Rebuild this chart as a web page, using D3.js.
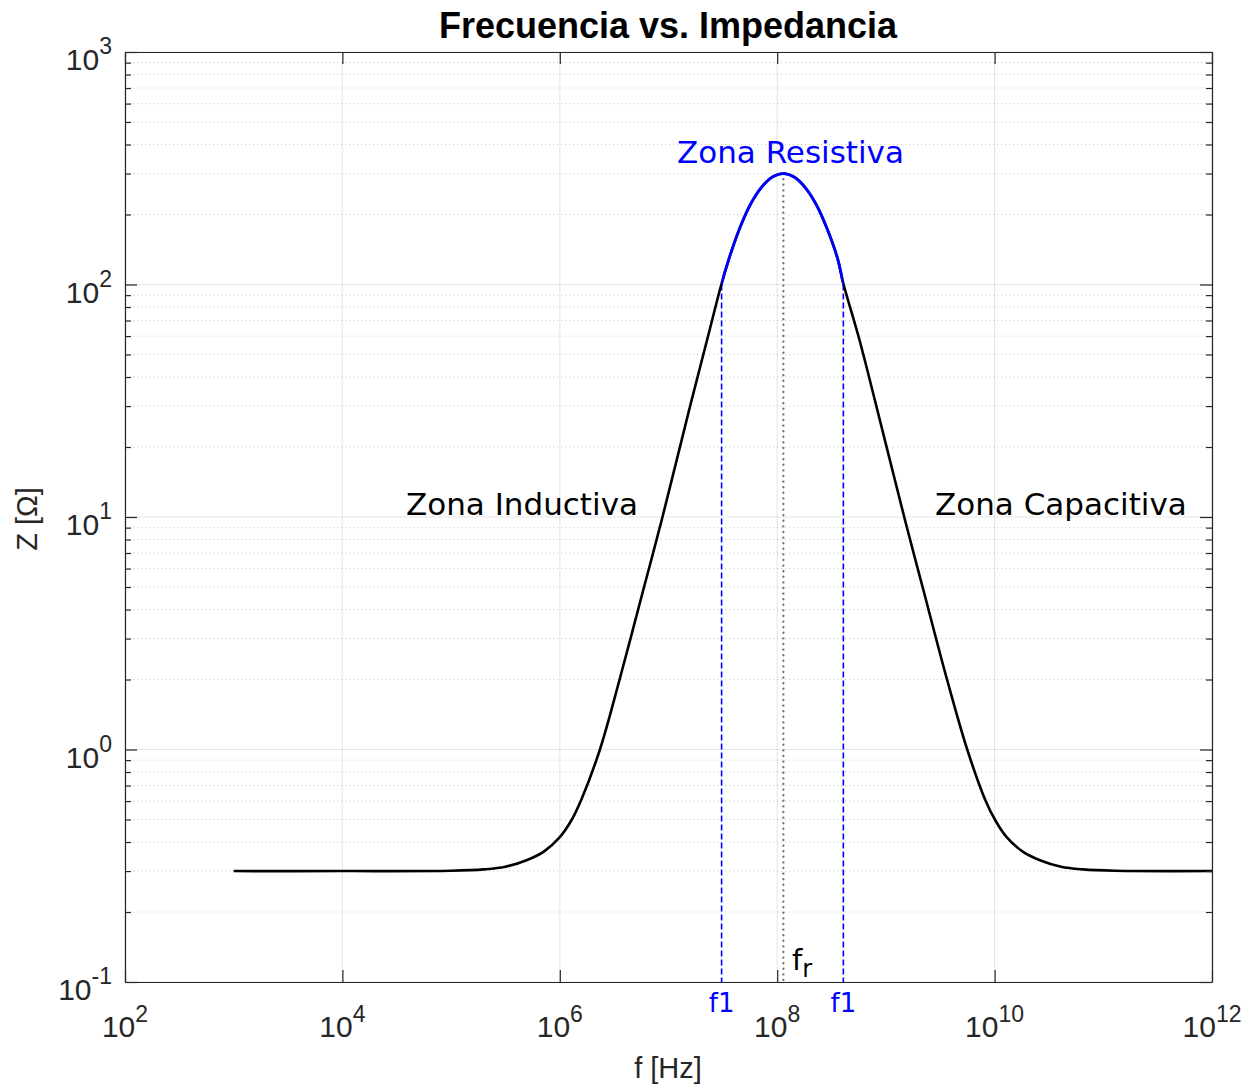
<!DOCTYPE html>
<html>
<head>
<meta charset="utf-8">
<script src="https://cdn.jsdelivr.net/npm/d3@7"></script>
<style>
  body { margin: 0; background: #fff; }
  text { font-family: "Liberation Sans", Arial, sans-serif; }
</style>
</head>
<body>
<script>
// impedance curve
const freq = [1e3, 1e4, 1e5, 2e5, 3.16e5, 5.01e5, 7.08e5, 1e6, 1.26e6, 1.58e6, 2.34e6, 3.55e6, 5.89e6, 8.71e6,
  1.58e7, 2.27e7, 3.08e7, 3.6e7, 4.53e7, 5.7e7, 7.18e7, 9.04e7, 1.14e8, 1.43e8, 1.8e8, 2.27e8, 2.86e8, 3.6e8,
  4.06e8, 5.7e8, 8.17e8, 1.49e9, 2.2e9, 3.65e9, 5.6e9, 8.17e9, 1.03e10, 1.29e10, 1.83e10, 2.58e10, 4.09e10,
  6.49e10, 1.29e11, 1e12];
const imped = [0.30, 0.30, 0.301, 0.305, 0.313, 0.335, 0.363, 0.42, 0.49, 0.61, 1.0, 2.0, 4.9, 9.8,
  30, 58, 101, 129, 175, 222, 262, 290, 300, 290, 262, 222, 175, 129,
  101, 58, 30, 9.8, 4.9, 2.0, 1.0, 0.61, 0.49, 0.42, 0.363, 0.335, 0.313,
  0.305, 0.301, 0.30];

const f1Low = 3.08e7;
const f1High = 4.06e8;
const fRes = 1.14e8;
const zPeak = 300;
const zF1 = 100;

const xTicks = [1e2, 1e4, 1e6, 1e8, 1e10, 1e12];
const xExp = ["2", "4", "6", "8", "10", "12"];
const yTicks = [1e-1, 1e0, 1e1, 1e2, 1e3];
const yExp = ["-1", "0", "1", "2", "3"];

const axisColor = "#262626";
const blue = "#0000ff";

let x = d3.scaleLog().domain([1e2, 1e12]).range([125, 1212]);
let y = d3.scaleLog().domain([1e-1, 1e3]).range([982, 52]);

let data = freq.map((f, i) => ({ f: f, z: imped[i] }));
let yAll = y.ticks();
let isMajor = v => Math.abs(Math.log10(v) - Math.round(Math.log10(v))) < 1e-9;

let svg = d3
  .select("body")
  .append("svg")
  .attr("width", 1254)
  .attr("height", 1090);

// grid
let grid = svg.append("g");
grid
  .selectAll(".minor")
  .data(yAll.filter(v => !isMajor(v)))
  .enter()
  .append("line")
  .attr("x1", x.range()[0])
  .attr("x2", x.range()[1])
  .attr("y1", d => y(d))
  .attr("y2", d => y(d))
  .attr("stroke", axisColor)
  .attr("stroke-opacity", 0.25)
  .attr("stroke-dasharray", "1,3");
grid
  .selectAll(".hmajor")
  .data(yTicks)
  .enter()
  .append("line")
  .attr("x1", x.range()[0])
  .attr("x2", x.range()[1])
  .attr("y1", d => y(d))
  .attr("y2", d => y(d))
  .attr("stroke", axisColor)
  .attr("stroke-opacity", 0.12);
grid
  .selectAll(".vmajor")
  .data(xTicks)
  .enter()
  .append("line")
  .attr("y1", y.range()[0])
  .attr("y2", y.range()[1])
  .attr("x1", d => x(d))
  .attr("x2", d => x(d))
  .attr("stroke", axisColor)
  .attr("stroke-opacity", 0.12);

// marker lines
svg
  .selectAll(".f1")
  .data([f1Low, f1High])
  .enter()
  .append("line")
  .attr("x1", d => x(d))
  .attr("x2", d => x(d))
  .attr("y1", y(zF1))
  .attr("y2", y(1e-1))
  .attr("stroke", blue)
  .attr("stroke-width", 1.6)
  .attr("stroke-dasharray", "6,3");

svg
  .append("line")
  .attr("x1", x(fRes))
  .attr("x2", x(fRes))
  .attr("y1", y(zPeak))
  .attr("y2", y(1e-1))
  .attr("stroke", "#707070")
  .attr("stroke-width", 2.3)
  .attr("stroke-linecap", "round")
  .attr("stroke-dasharray", "0.1,5.5");

// curve
let line = d3
  .line()
  .x(d => x(d.f))
  .y(d => y(d.z))
  .curve(d3.curveCatmullRom.alpha(0.5));

svg
  .append("path")
  .datum(data)
  .attr("d", line)
  .attr("fill", "none")
  .attr("stroke", "#000")
  .attr("stroke-width", 2.6);

svg
  .append("clipPath")
  .attr("id", "resistiva")
  .append("rect")
  .attr("x", x(f1Low))
  .attr("width", x(f1High) - x(f1Low))
  .attr("y", 0)
  .attr("height", 1090);

svg
  .append("path")
  .datum(data)
  .attr("d", line)
  .attr("fill", "none")
  .attr("stroke", blue)
  .attr("stroke-width", 2.8)
  .attr("clip-path", "url(#resistiva)");

// axes (box, ticks inward)
let styleAxis = g => {
  g.selectAll("path").attr("stroke", axisColor).attr("stroke-width", 1.2);
  g.selectAll("line").attr("stroke", axisColor).attr("stroke-width", 1.2);
  g.selectAll("text").remove();
};

svg
  .append("g")
  .attr("transform", `translate(0, ${y.range()[0]})`)
  .call(d3.axisBottom(x).tickValues(xTicks).tickSizeInner(-12).tickSizeOuter(0).tickFormat(""))
  .call(styleAxis);
svg
  .append("g")
  .attr("transform", `translate(0, ${y.range()[1]})`)
  .call(d3.axisTop(x).tickValues(xTicks).tickSizeInner(-12).tickSizeOuter(0).tickFormat(""))
  .call(styleAxis);

let left = svg
  .append("g")
  .attr("transform", `translate(${x.range()[0]}, 0)`)
  .call(d3.axisLeft(y).tickValues(yAll).tickSizeInner(-12).tickSizeOuter(0).tickFormat(""))
  .call(styleAxis);
left.selectAll(".tick line").attr("x2", d => (isMajor(d) ? 12 : 6));

let right = svg
  .append("g")
  .attr("transform", `translate(${x.range()[1]}, 0)`)
  .call(d3.axisRight(y).tickValues(yAll).tickSizeInner(-12).tickSizeOuter(0).tickFormat(""))
  .call(styleAxis);
right.selectAll(".tick line").attr("x2", d => (isMajor(d) ? -12 : -6));

// tick labels 10^n
let xl = svg
  .selectAll(".xl")
  .data(xTicks)
  .enter()
  .append("text")
  .attr("x", d => x(d))
  .attr("y", 1037)
  .attr("text-anchor", "middle")
  .attr("fill", axisColor)
  .style("font-size", "30px");
xl.append("tspan").text("10");
xl.append("tspan")
  .attr("dy", -15)
  .style("font-size", "23px")
  .text((d, i) => xExp[i]);

let yl = svg
  .selectAll(".yl")
  .data(yTicks)
  .enter()
  .append("text")
  .attr("x", 112)
  .attr("y", d => y(d) + 18)
  .attr("text-anchor", "end")
  .attr("fill", axisColor)
  .style("font-size", "30px");
yl.append("tspan").text("10");
yl.append("tspan")
  .attr("dy", -16)
  .style("font-size", "23px")
  .text((d, i) => yExp[i]);

// titles
svg
  .append("text")
  .attr("x", 668)
  .attr("y", 38)
  .attr("text-anchor", "middle")
  .style("font-size", "36px")
  .style("font-weight", "bold")
  .text("Frecuencia vs. Impedancia");

svg
  .append("text")
  .attr("x", 668)
  .attr("y", 1078)
  .attr("text-anchor", "middle")
  .attr("fill", axisColor)
  .style("font-size", "29px")
  .text("f [Hz]");

svg
  .append("text")
  .attr("transform", "translate(37, 519) rotate(-90)")
  .attr("text-anchor", "middle")
  .attr("fill", axisColor)
  .style("font-size", "29px")
  .text("Z [Ω]");

// annotations
let note = (tx, ty, txt, color, size) =>
  svg
    .append("text")
    .attr("x", tx)
    .attr("y", ty)
    .attr("fill", color)
    .style("font-family", "'DejaVu Sans'")
    .style("font-size", size + "px")
    .text(txt);

note(677, 163, "Zona Resistiva", blue, 31);
note(406, 515, "Zona Inductiva", "#000", 31);
note(935, 515, "Zona Capacitiva", "#000", 31);

svg
  .selectAll(".f1l")
  .data([f1Low, f1High])
  .enter()
  .append("text")
  .attr("x", d => x(d))
  .attr("y", 1012)
  .attr("text-anchor", "middle")
  .attr("fill", blue)
  .style("font-family", "'DejaVu Sans'")
  .style("font-size", "26px")
  .text("f1");

let fr = note(792, 970, "f", "#000", 29);
fr.append("tspan").attr("dy", 7).style("font-size", "24px").text("r");
</script>
</body>
</html>
